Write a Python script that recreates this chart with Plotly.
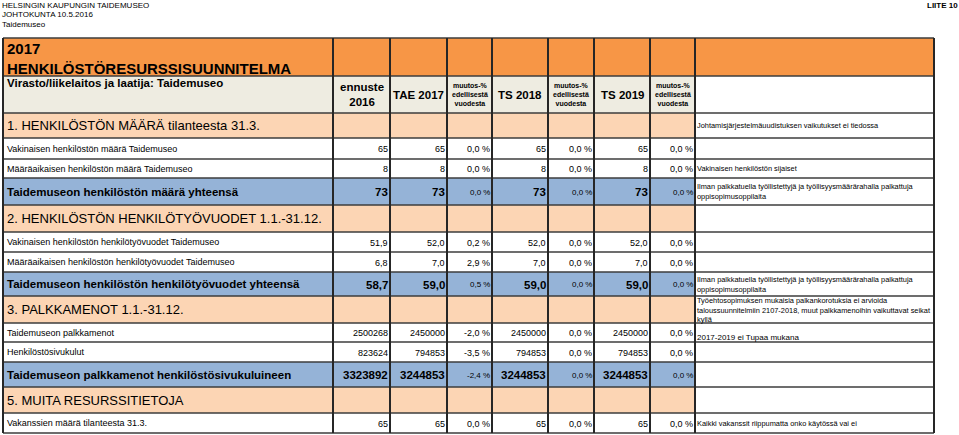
"""Henkilöstöresurssisuunnitelma 2017 — table drawn with Plotly shapes and annotations."""

import plotly.graph_objects as go

# ── Texts ──
ORG_LINES = ["HELSINGIN KAUPUNGIN TAIDEMUSEO", "JOHTOKUNTA 10.5.2016", "Taidemuseo"]
APPENDIX = "LIITE 10"
TITLE = "2017<br>HENKILÖSTÖRESURSSISUUNNITELMA"
AUTHOR = "Virasto/liikelaitos ja laatija: Taidemuseo"
CHANGE_HEAD = "muutos-%<br>edellisestä<br>vuodesta"
COLUMN_HEADS = ["ennuste<br>2016", "TAE 2017", CHANGE_HEAD, "TS 2018", CHANGE_HEAD, "TS 2019", CHANGE_HEAD]

SECTIONS = [
    "1. HENKILÖSTÖN MÄÄRÄ tilanteesta 31.3.",
    "2. HENKILÖSTÖN HENKILÖTYÖVUODET 1.1.-31.12.",
    "3. PALKKAMENOT 1.1.-31.12.",
    "5. MUITA RESURSSITIETOJA",
]

# ── Data ──
ITEM_LABELS = [
    "Vakinaisen henkilöstön määrä Taidemuseo",
    "Määräaikaisen henkilöstön määrä Taidemuseo",
    "Taidemuseon henkilöstön määrä yhteensä",
    "Vakinaisen henkilöstön henkilötyövuodet Taidemuseo",
    "Määräaikaisen henkilöstön henkilötyövuodet Taidemuseo",
    "Taidemuseon henkilöstön henkilötyövuodet yhteensä",
    "Taidemuseon palkkamenot",
    "Henkilöstösivukulut",
    "Taidemuseon palkkamenot henkilöstösivukuluineen",
    "Vakanssien määrä tilanteesta 31.3.",
]
ENNUSTE_2016 = [65, 8, 73, 51.9, 6.8, 58.7, 2500268, 823624, 3323892, 65]
TAE_2017 = [65, 8, 73, 52.0, 7.0, 59.0, 2450000, 794853, 3244853, 65]
TS_2018 = [65, 8, 73, 52.0, 7.0, 59.0, 2450000, 794853, 3244853, 65]
TS_2019 = [65, 8, 73, 52.0, 7.0, 59.0, 2450000, 794853, 3244853, 65]
MUUTOS_2017 = [0.0, 0.0, 0.0, 0.2, 2.9, 0.5, -2.0, -3.5, -2.4, 0.0]
MUUTOS_2018 = [0.0, 0.0, 0.0, 0.0, 0.0, 0.0, 0.0, 0.0, 0.0, 0.0]
MUUTOS_2019 = [0.0, 0.0, 0.0, 0.0, 0.0, 0.0, 0.0, 0.0, 0.0, 0.0]
DECIMALS = [0, 0, 0, 1, 1, 1, 0, 0, 0, 0]

NOTE_ROWS = [2, 4, 5, 9, 10, 11, 15]
NOTE_TEXTS = [
    "Johtamisjärjestelmäuudistuksen vaikutukset ei tiedossa",
    "Vakinaisen henkilöstön sijaiset",
    "Ilman palkkatuella työllistettyjä ja työllisyysmäärärahalla palkattuja<br>oppisopimusoppilaita",
    "Ilman palkkatuella työllistettyjä ja työllisyysmäärärahalla palkattuja<br>oppisopimusoppilaita",
    "Työehtosopimuksen mukaisia palkankorotuksia ei arvioida<br>taloussuunnitelmiin 2107-2018, muut palkkamenoihin vaikuttavat seikat<br>kyllä",
    "2017-2019 ei Tupaa mukana",
    "Kaikki vakanssit riippumatta onko käytössä vai ei",
]

# ── Layout (pixels) ──
ROW_KINDS = ["title", "head", "section", "item", "item", "total", "section", "item", "item",
             "total", "section", "item", "item", "total", "section", "item"]
ROW_HEIGHTS = [38, 37, 25, 21, 19, 27, 27, 20, 20, 24, 27, 19, 20, 25, 26, 20]
COL_EDGES = [3, 333, 390, 447, 492, 548, 594, 650, 695, 934]
TABLE_TOP = 38

FILLS = {"title": "#F79646", "head": "#EEECE1", "section": "#FCD5B4", "item": "#FFFFFF", "total": "#95B3D7"}
FONT = "Liberation Sans, Arial, sans-serif"
INK = "#000000"


def fmt_num(v, dec):
    return f"{v:.{dec}f}".replace(".", ",")


def fmt_pct(p):
    return f"{p:.1f} %".replace(".", ",")


fig = go.Figure()
shapes, notes = [], []


def text(x, y, s, size, xanchor="left", yanchor="middle", align="left", bold=False):
    notes.append(dict(
        x=x, y=y, xref="x", yref="y", text=f"<b>{s}</b>" if bold else s, showarrow=False,
        xanchor=xanchor, yanchor=yanchor, align=align, borderpad=0, borderwidth=0,
        font=dict(family=FONT, size=size, color=INK),
    ))


# page header
for i, line in enumerate(ORG_LINES):
    text(2, 5 + i * 9.5, line, 8)
text(927, 5, APPENDIX, 8, bold=True)

row_tops = [TABLE_TOP]
for h in ROW_HEIGHTS:
    row_tops.append(row_tops[-1] + h)

sec_i = item_i = 0
for r, kind in enumerate(ROW_KINDS):
    y0, y1 = row_tops[r], row_tops[r + 1]
    ym = (y0 + y1) / 2
    for c in range(len(COL_EDGES) - 1):
        fill = FILLS[kind] if (c < 8 or kind == "title") else "#FFFFFF"
        shapes.append(dict(type="rect", xref="x", yref="y", x0=COL_EDGES[c], x1=COL_EDGES[c + 1],
                           y0=y0, y1=y1, fillcolor=fill, line=dict(width=0), layer="below"))

    if kind == "title":
        text(7, ym + 1.5, TITLE, 15, bold=True)
    elif kind == "head":
        text(7, y0 + 1, AUTHOR, 11.5, yanchor="top", bold=True)
        for c, head in enumerate(COLUMN_HEADS):
            xc = (COL_EDGES[c + 1] + COL_EDGES[c + 2]) / 2
            size = 7 if head == CHANGE_HEAD else 11.5
            text(xc, ym, head, size, xanchor="center", align="center", bold=True)
    elif kind == "section":
        text(7, ym, SECTIONS[sec_i], 13)
        sec_i += 1
    else:
        i = item_i
        item_i += 1
        total = kind == "total"
        text(7, ym, ITEM_LABELS[i], 11.5 if total else 9, bold=total)
        vals = [fmt_num(ENNUSTE_2016[i], DECIMALS[i]), fmt_num(TAE_2017[i], DECIMALS[i]),
                fmt_pct(MUUTOS_2017[i]), fmt_num(TS_2018[i], DECIMALS[i]),
                fmt_pct(MUUTOS_2018[i]), fmt_num(TS_2019[i], DECIMALS[i]), fmt_pct(MUUTOS_2019[i])]
        for c, v in enumerate(vals):
            is_pct = c in (2, 4, 6)
            size = (8 if is_pct else 11.5) if total else 9
            text(COL_EDGES[c + 2] - 2, ym + 0.5, v, size, xanchor="right", bold=total and not is_pct)

# notes column
for r, note in zip(NOTE_ROWS, NOTE_TEXTS):
    y0, y1 = row_tops[r], row_tops[r + 1]
    if note.startswith("2017-2019"):
        text(697, y1 - 0.5, note, 8, yanchor="bottom")
    else:
        text(697, (y0 + y1) / 2, note, 7.4)

# grid lines
for y in row_tops:
    shapes.append(dict(type="line", xref="x", yref="y", x0=COL_EDGES[0], x1=COL_EDGES[-1], y0=y, y1=y,
                       line=dict(color="#3C3C3C", width=1.3)))
for x in COL_EDGES:
    shapes.append(dict(type="line", xref="x", yref="y", x0=x, x1=x, y0=row_tops[0], y1=row_tops[-1],
                       line=dict(color="#262626", width=2)))

fig.update_layout(
    width=959, height=435,
    margin=dict(l=0, r=0, t=0, b=0),
    paper_bgcolor="#FFFFFF", plot_bgcolor="#FFFFFF",
    shapes=shapes, annotations=notes,
    showlegend=False,
)
fig.update_xaxes(range=[0, 959], visible=False, fixedrange=True)
fig.update_yaxes(range=[435, 0], visible=False, fixedrange=True)

# the page body has a default 8px margin; drop it so the figure sits at the window origin
fig.write_html(
    "out.html",
    config={"displayModeBar": False},
    post_script="document.body.style.margin='0';document.body.style.overflow='hidden';",
)
